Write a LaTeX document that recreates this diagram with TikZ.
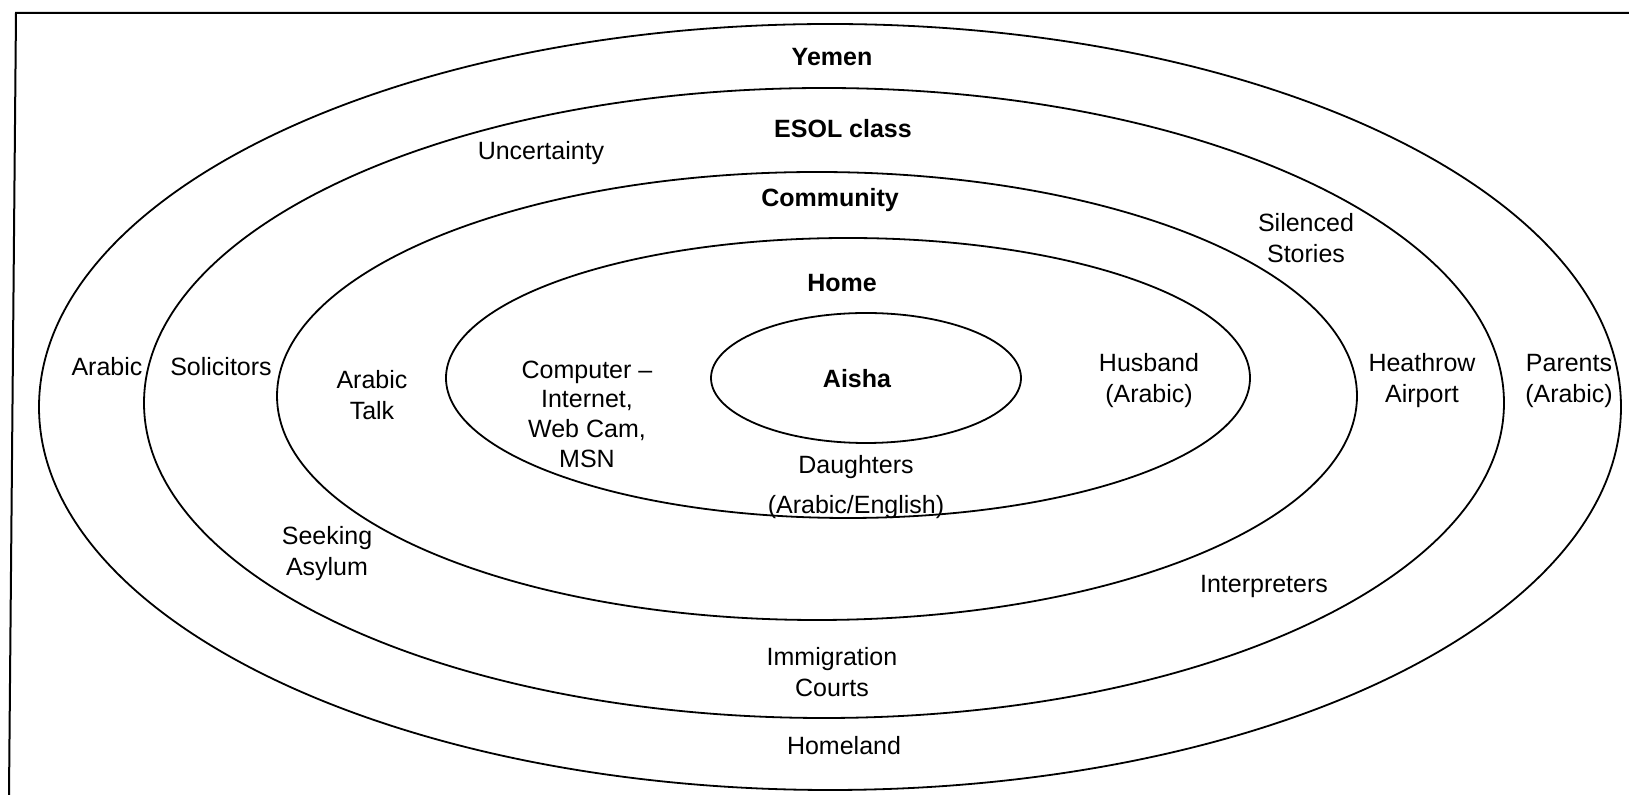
\documentclass[tikz,border=0pt]{standalone}
\usepackage{fontspec}
\setmainfont{Liberation Sans}
\tikzset{
  ring/.style={line width=0.9pt},
  lbl/.style={font=\fontsize{12.5}{15.5}\selectfont, align=center, inner sep=0pt},
  place/.style={lbl, font=\fontsize{12.5}{15.5}\selectfont\bfseries}
}
\begin{document}
\begin{tikzpicture}[x=0.5pt,y=-0.5pt]
    \useasboundingbox (0,0) rectangle (1629,795);
    % frame
    \draw[line width=1pt] (9,795)--(16,13)--(1629,13);
    % rings
    \draw[ring] (830,407) ellipse [x radius=395.5pt, y radius=191.5pt];
    \draw[ring] (824,403) ellipse [x radius=340pt, y radius=157.5pt];
    \draw[ring] (817,396) ellipse [x radius=270pt, y radius=112pt];
    \draw[ring] (848,378) ellipse [x radius=201pt, y radius=70pt];
    \draw[ring] (866,378) ellipse [x radius=77.5pt, y radius=32.5pt];
    % ring names
    \node[place] (yemen) at (832,57) {Yemen};
    \node[place] (esol) at (843,129) {ESOL class};
    \node[place] (community) at (830,200) {Community};
    \node[place] (home) at (842,283) {Home};
    \node[place] (aisha) at (857,379) {Aisha};
    % outer ring
    \node[lbl] (arabic) at (107,367) {Arabic};
    \node[lbl] (parents) at (1569,381) {Parents\\(Arabic)};
    \node[lbl] (homeland) at (844,746) {Homeland};
    % ESOL ring
    \node[lbl] (uncertainty) at (541,153) {Uncertainty};
    \node[lbl] (solicitors) at (221,367) {Solicitors};
    \node[lbl] (heathrow) at (1422,381) {Heathrow\\Airport};
    \node[lbl] (seeking) at (327,554) {Seeking\\Asylum};
    \node[lbl] (courts) at (832,672) {Immigration\\Courts};
    \node[lbl] (interpreters) at (1264,586) {Interpreters};
    \node[lbl] (silenced) at (1306,238) {Silenced\\Stories};
    % community ring
    \node[lbl] (arabictalk) at (372,395) {Arabic\\Talk};
    % home ring
    \node[lbl, font=\fontsize{12.5}{14.8}\selectfont] (computer) at (587,414) {Computer --\\Internet,\\Web Cam,\\MSN};
    \node[lbl] (husband) at (1149,381) {Husband\\(Arabic)};
    \node[lbl] (daughters) at (856,467) {Daughters};
    \node[lbl] (daughterslang) at (856,507) {(Arabic/English)};
\end{tikzpicture}
\end{document}
